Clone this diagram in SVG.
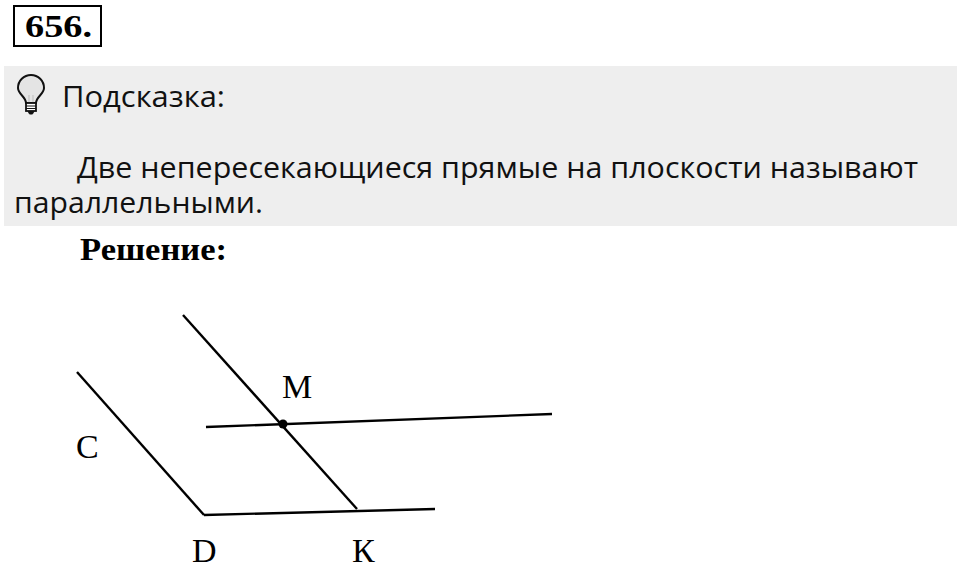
<svg xmlns="http://www.w3.org/2000/svg" width="960" height="569" viewBox="0 0 960 569">
<style>
.serifb{font-family:"Liberation Serif","Times New Roman",serif;font-weight:bold;fill:#000}
.sans{font-family:"Open Sans","Noto Sans",sans-serif;fill:#111}
.lbl{font-family:"Liberation Serif","Times New Roman",serif;font-size:34px;fill:#000}
.ln{stroke:#000;stroke-width:2.4;fill:none;stroke-linecap:butt}
</style>
<rect width="960" height="569" fill="#fff"/>
<g id="number">
<rect x="14" y="6" width="87" height="40" fill="#fff" stroke="#000" stroke-width="2"/>
<text class="serifb" x="25" y="37" font-size="32" textLength="67" lengthAdjust="spacingAndGlyphs">656.</text>
</g>
<g id="hint">
<rect x="4" y="66" width="953" height="160" fill="#eeeeee"/>
<g id="bulb">
<path d="M26,103 C26,97 18,94 18,88 A13,13 0 1 1 44,88 C44,94 36,97 36,103 Z" fill="#e4e4e4" stroke="#111" stroke-width="2"/>
<path d="M29,103 L29,95 M33,103 L33,95" stroke="#bbb" stroke-width="1"/>
<rect x="26" y="103" width="10" height="8" fill="#fff" stroke="#111" stroke-width="1.8"/>
<path d="M26,106 H36 M26,108.5 H36" stroke="#111" stroke-width="1"/>
<path d="M28,111 L29.5,114 H32.5 L34,111" fill="#111" stroke="#111" stroke-width="1"/>
</g>
<text class="sans" x="62" y="107" font-size="29" textLength="163" lengthAdjust="spacingAndGlyphs">Подсказка:</text>
<text class="sans" x="77" y="178" font-size="29" textLength="841" lengthAdjust="spacingAndGlyphs">Две непересекающиеся прямые на плоскости называют</text>
<text class="sans" x="14" y="213" font-size="29" textLength="249" lengthAdjust="spacingAndGlyphs">параллельными.</text>
</g>
<text id="solution" class="serifb" x="80" y="260" font-size="32" textLength="147" lengthAdjust="spacingAndGlyphs">Решение:</text>
<g id="connectors">
<line class="ln" x1="77" y1="372" x2="204" y2="515"/>
<line class="ln" x1="204" y1="515" x2="435" y2="509"/>
<line class="ln" x1="183" y1="315" x2="357" y2="509"/>
<line class="ln" x1="206" y1="427" x2="552" y2="414"/>
</g>
<g id="point-M">
<circle cx="283" cy="424" r="4.5" fill="#000"/>
<text class="lbl" x="282" y="398">M</text>
</g>
<g id="label-C"><text class="lbl" x="76" y="458">C</text></g>
<g id="label-D"><text class="lbl" x="192" y="562">D</text></g>
<g id="label-K"><text class="lbl" x="352" y="562">К</text></g>
</svg>
